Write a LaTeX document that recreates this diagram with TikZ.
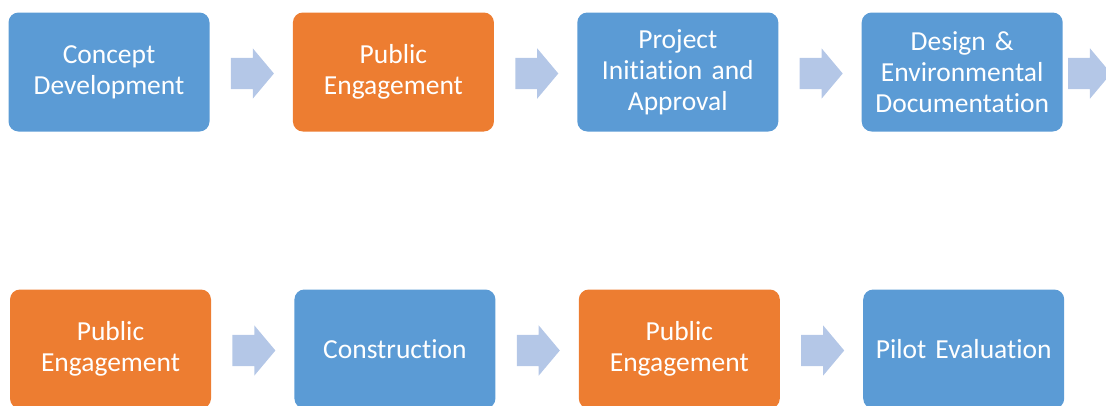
\documentclass[tikz,border=0pt]{standalone}
\usepackage{fontspec}
\setmainfont{Carlito}[Ligatures=NoCommon]
\usetikzlibrary{positioning,shapes.arrows}
\definecolor{stepblue}{RGB}{91,155,213}
\definecolor{steporange}{RGB}{237,125,49}
\definecolor{arrowblue}{RGB}{180,199,231}
\tikzset{
    stepbox/.style={rectangle, rounded corners=10pt, minimum width=201pt, minimum height=119pt, text width=199pt, inner sep=0pt, text centered, text=white, font=\fontsize{27.5}{31}\selectfont},
    blue_block/.style={stepbox, fill=stepblue},
    orange_block/.style={stepbox, fill=steporange},
    fatarrow/.style={single arrow, fill=arrowblue, minimum height=43pt, inner xsep=0pt, inner ysep=15.5pt, single arrow head extend=9.5pt, single arrow tip angle=100},
}

\begin{document}
\begin{tikzpicture}
        [x=1pt, y=-1pt, node distance=83pt]
        \clip (0,0) rectangle (1106,405);

        % First row of the process
        \node[blue_block] (concept) at (109,72) {Concept\\Development};
        \node[orange_block,right=of concept] (engage1) {Public\\Engagement};
        \node[blue_block,right=of engage1] (approval) {Project\\Initiation and\\Approval};
        \node[blue_block,right=of approval] (design) {Design \&\\Environmental\\Documentation};

        % Second row of the process
        \node[orange_block] (engage2) at (110.5,349) {Public\\Engagement};
        \node[blue_block,right=of engage2] (construction) {Construction};
        \node[orange_block,right=of construction] (engage3) {Public\\Engagement};
        \node[blue_block,right=of engage3] (pilot) {Pilot Evaluation};

        % Arrows
        \node[fatarrow,right=21pt of concept,yshift=-1.5pt] (a1) {};
        \node[fatarrow,right=21pt of engage1,yshift=-1.5pt] (a2) {};
        \node[fatarrow,right=21pt of approval,yshift=-1.5pt] (a3) {};
        \node[fatarrow,right=5pt of design,yshift=-1.5pt] (a4) {};
        \node[fatarrow,right=21pt of engage2,yshift=-1.5pt] (b1) {};
        \node[fatarrow,right=21pt of construction,yshift=-1.5pt] (b2) {};
        \node[fatarrow,right=21pt of engage3,yshift=-1.5pt] (b3) {};

    \end{tikzpicture}
\end{document}
